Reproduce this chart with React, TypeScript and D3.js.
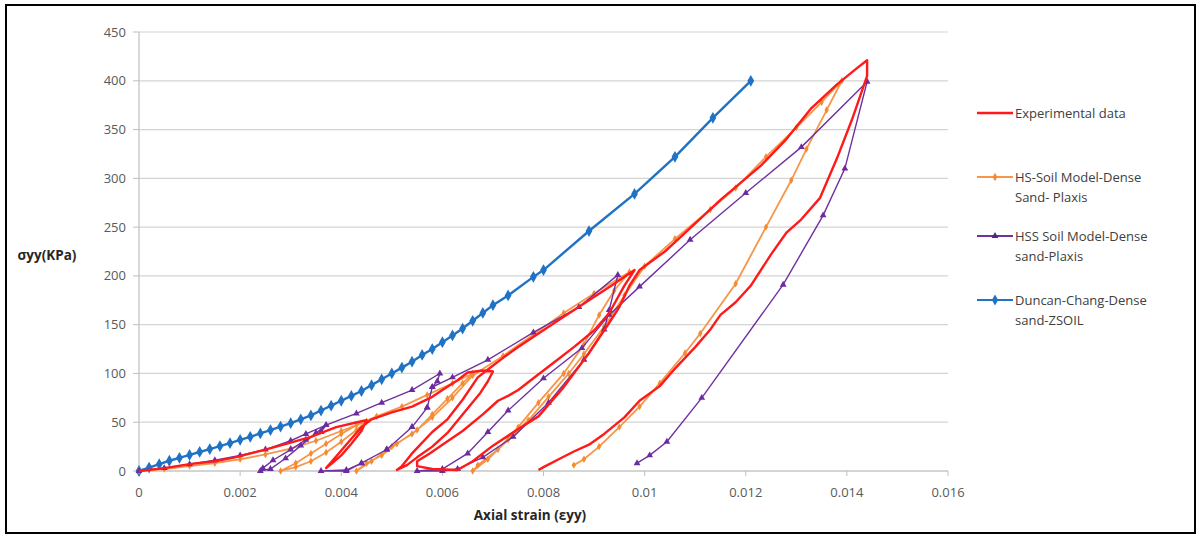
import React, { useEffect } from "react";
import * as d3 from "d3";

type Pt = [number, number];

const xTicks = [0, 0.002, 0.004, 0.006, 0.008, 0.01, 0.012, 0.014, 0.016];
const xTickLabels = ["0", "0.002", "0.004", "0.006", "0.008", "0.01", "0.012", "0.014", "0.016"];
const yTicks = [0, 50, 100, 150, 200, 250, 300, 350, 400, 450];

const seriesNames = [
  ["Experimental data"],
  ["HS-Soil Model-Dense", "Sand- Plaxis"],
  ["HSS Soil Model-Dense", "sand-Plaxis"],
  ["Duncan-Chang-Dense", "sand-ZSOIL"],
];

// Experimental data (strain, stress kPa)
const experimental: Pt[] = [
  [0, 0], [0.0005, 3], [0.001, 7], [0.0015, 10], [0.0019, 14], [0.0025, 22], [0.003, 29], [0.0034, 35],
  [0.0039, 45], [0.0044, 51], [0.0045, 52],
  [0.0044, 41], [0.0042, 28], [0.004, 16], [0.0038, 7], [0.0037, 3],
  [0.0038, 9], [0.004, 21], [0.0042, 33], [0.0044, 45], [0.0046, 53], [0.005, 60], [0.0054, 66],
  [0.0058, 76], [0.006, 83], [0.0063, 93], [0.0065, 101], [0.0068, 103], [0.007, 102],
  [0.0069, 92], [0.00675, 80], [0.0064, 58], [0.0061, 39], [0.0058, 25], [0.0055, 14], [0.0053, 6], [0.0051, 1],
  [0.0052, 5], [0.0054, 18], [0.0058, 40], [0.0061, 53], [0.0064, 73], [0.0067, 96], [0.0069, 104],
  [0.0072, 116], [0.0075, 127], [0.0079, 141], [0.0084, 158], [0.0089, 175], [0.0094, 192], [0.0098, 206],
  [0.0096, 190], [0.0093, 162], [0.009, 144], [0.0086, 127], [0.0082, 111], [0.0078, 95], [0.0075, 83],
  [0.0073, 77], [0.0071, 72], [0.0068, 58], [0.0064, 41], [0.006, 27], [0.00575, 18], [0.0055, 10], [0.0055, 5],
  [0.0058, 2], [0.0063, 1], [0.0066, 10], [0.007, 26], [0.0075, 43], [0.0079, 56], [0.0084, 86],
  [0.0089, 121], [0.0093, 152], [0.0095, 168], [0.0097, 190], [0.0099, 206],
  [0.0104, 225], [0.0108, 244], [0.0115, 278], [0.0123, 313], [0.0128, 340], [0.0133, 372], [0.0138, 396],
  [0.0142, 413], [0.0144, 421],
  [0.0144, 405], [0.0143, 390], [0.0141, 360], [0.0138, 320], [0.01347, 280], [0.0131, 258], [0.0128, 244],
  [0.0125, 222], [0.0121, 190], [0.0118, 173], [0.0115, 160], [0.0113, 145], [0.011, 127], [0.0106, 105],
  [0.0103, 87], [0.0099, 72], [0.0096, 55], [0.0092, 38], [0.0089, 27], [0.0086, 20], [0.0083, 12],
  [0.008, 4], [0.0079, 1],
];

// HS Soil model (Plaxis)
const hsModel: Pt[] = [
  [0, 0], [0.0005, 2], [0.001, 5], [0.0015, 8], [0.002, 12], [0.0025, 17], [0.003, 23], [0.0035, 31],
  [0.004, 41], [0.0045, 51],
  [0.0043, 42], [0.004, 30], [0.0037, 19], [0.0034, 10], [0.0031, 4], [0.0028, 0],
  [0.0031, 8], [0.0034, 18], [0.0037, 28], [0.004, 38], [0.0043, 47], [0.0047, 56], [0.0052, 66],
  [0.0057, 78], [0.0062, 90], [0.0066, 100],
  [0.0064, 90], [0.0061, 74], [0.0058, 58], [0.0055, 42], [0.0051, 28], [0.0048, 16], [0.0045, 8], [0.0043, 0],
  [0.0046, 10], [0.005, 25], [0.0054, 38], [0.0058, 55], [0.0062, 75], [0.0066, 98], [0.0072, 118],
  [0.0078, 140], [0.0084, 162], [0.009, 182], [0.0097, 204],
  [0.0094, 185], [0.0091, 160], [0.0088, 130], [0.0084, 100], [0.0079, 70], [0.0075, 45], [0.0071, 22],
  [0.0067, 6], [0.0066, 0],
  [0.0069, 12], [0.0073, 32], [0.0077, 52], [0.0081, 76], [0.0085, 100], [0.0088, 120], [0.0092, 148],
  [0.0096, 180], [0.01, 210], [0.0106, 238], [0.0113, 268], [0.0118, 290], [0.0124, 322], [0.013, 352],
  [0.0135, 378], [0.0139, 400],
  [0.0136, 370], [0.0132, 330], [0.0129, 298], [0.0124, 250], [0.0118, 192], [0.0111, 141], [0.0108, 121],
  [0.0103, 90], [0.0099, 66], [0.0095, 45], [0.0091, 25], [0.0088, 12], [0.0086, 6],
];

// HSS Soil model (Plaxis)
const hssModel: Pt[] = [
  [0, 0], [0.0005, 3], [0.001, 7], [0.0015, 11], [0.002, 16], [0.0025, 22], [0.003, 31], [0.0033, 38], [0.0037, 47],
  [0.0036, 40], [0.0033, 32], [0.003, 22], [0.00265, 11], [0.00245, 3], [0.0024, 0],
  [0.0026, 2], [0.0029, 13], [0.0032, 26], [0.0035, 39], [0.0037, 47], [0.0043, 59], [0.0048, 70],
  [0.0054, 83], [0.00595, 100],
  [0.0059, 92], [0.0058, 86], [0.0057, 65], [0.0054, 45], [0.0049, 22], [0.0044, 8], [0.0041, 0], [0.0036, 0],
  [0.0041, 1], [0.0044, 8], [0.0049, 22], [0.0054, 45], [0.0057, 65], [0.0058, 86], [0.0062, 96],
  [0.0069, 114], [0.0078, 142], [0.0087, 168], [0.00947, 201],
  [0.0093, 165], [0.0092, 145], [0.0088, 114], [0.0081, 70], [0.0074, 35], [0.0068, 14], [0.0063, 2],
  [0.006, 0], [0.0055, 0],
  [0.006, 2], [0.0065, 18], [0.0069, 40], [0.0073, 62], [0.008, 95], [0.00876, 126], [0.0093, 160],
  [0.0099, 189], [0.0109, 237], [0.012, 285], [0.0131, 332], [0.0144, 399],
  [0.01396, 310], [0.01353, 262], [0.01274, 191], [0.01113, 75], [0.01044, 30], [0.0101, 16], [0.00985, 8],
];

// Duncan-Chang (ZSOIL)
const duncanChang: Pt[] = [
  [0, 0], [0.0002, 3.5], [0.0004, 7], [0.0006, 10.5], [0.0008, 13.5], [0.001, 16.5], [0.0012, 19.5],
  [0.0014, 22.5], [0.0016, 25.5], [0.0018, 28.5], [0.002, 32], [0.0022, 35], [0.0024, 38.5], [0.0026, 42],
  [0.0028, 45.5], [0.003, 49], [0.0032, 53], [0.0034, 57], [0.0036, 62], [0.0038, 67], [0.004, 72],
  [0.0042, 77], [0.0044, 82], [0.0046, 88], [0.0048, 94], [0.005, 100], [0.0052, 106], [0.0054, 112],
  [0.0056, 119], [0.0058, 125], [0.006, 132], [0.0062, 139], [0.0064, 146], [0.0066, 154], [0.0068, 162],
  [0.007, 170], [0.0073, 180], [0.0078, 199], [0.008, 206], [0.0089, 246], [0.0098, 284], [0.0106, 322],
  [0.01135, 362], [0.0121, 400],
];

const COLORS = ["#FF1A1A", "#F7964A", "#7030A0", "#1F72C4"];
const FONT = "'Open Sans', 'Noto Sans', sans-serif";

export default function App() {
  useEffect(() => {
    document.body.style.margin = "0";
  }, []);

  const W = 1199, H = 538;
  const x = d3.scaleLinear().domain([0, 0.016]).range([139, 948]);
  const y = d3.scaleLinear().domain([0, 450]).range([471, 32]);
  const line = d3.line<Pt>().x((d) => x(d[0])).y((d) => y(d[1]));

  const diamond = d3.symbol().type(d3.symbolDiamond);
  const tri = d3.symbol().type(d3.symbolTriangle);

  const legendY = [113, 177, 236, 300];

  return (
    <svg width={W} height={H} style={{ display: "block", background: "#fff" }} fontFamily={FONT}>
      <rect x={6} y={5} width={1189} height={528} fill="#fff" stroke="#000" strokeWidth={2} />
      {/* gridlines */}
      {yTicks.map((t) => (
        <line key={"g" + t} x1={139} x2={948} y1={y(t)} y2={y(t)} stroke="#D4D4D4" strokeWidth={1.2} />
      ))}
      {/* axes */}
      <line x1={139} x2={139} y1={32} y2={471} stroke="#BFBFBF" strokeWidth={1.2} />
      <line x1={139} x2={948} y1={471} y2={471} stroke="#BFBFBF" strokeWidth={1.2} />
      {yTicks.map((t) => (
        <g key={"yt" + t}>
          <line x1={133} x2={139} y1={y(t)} y2={y(t)} stroke="#BFBFBF" />
          <text x={126} y={y(t)} dy="0.35em" textAnchor="end" fontSize={13} fill="#595959">{t}</text>
        </g>
      ))}
      {xTicks.map((t, i) => (
        <g key={"xt" + t}>
          <line x1={x(t)} x2={x(t)} y1={471} y2={476} stroke="#BFBFBF" />
          <text x={x(t)} y={492} dy="0.35em" textAnchor="middle" fontSize={13} fill="#595959">{xTickLabels[i]}</text>
        </g>
      ))}
      <text x={530} y={515} dy="0.35em" textAnchor="middle" fontSize={13.5} fontWeight="bold" fill="#262626">Axial strain  (εyy)</text>
      <text x={47} y={255} dy="0.35em" textAnchor="middle" fontSize={13.5} fontWeight="bold" fill="#262626">σyy(KPa)</text>

      {/* series */}
      <path d={line(duncanChang) || ""} fill="none" stroke={COLORS[3]} strokeWidth={2.4} />
      {duncanChang.map((d, i) => (
        <path key={"dc" + i} d={diamond.size(40)() || ""} transform={`translate(${x(d[0])},${y(d[1])})`} fill={COLORS[3]} />
      ))}
      <path d={line(hsModel) || ""} fill="none" stroke={COLORS[1]} strokeWidth={1.8} />
      {hsModel.map((d, i) => (
        <path key={"hs" + i} d={diamond.size(16)() || ""} transform={`translate(${x(d[0])},${y(d[1])})`} fill="#F58A2E" />
      ))}
      <path d={line(hssModel) || ""} fill="none" stroke={COLORS[2]} strokeWidth={1.4} />
      {hssModel.map((d, i) => (
        <path key={"hss" + i} d={tri.size(20)() || ""} transform={`translate(${x(d[0])},${y(d[1])})`} fill="#6A2C9E" />
      ))}
      <path d={line(experimental) || ""} fill="none" stroke={COLORS[0]} strokeWidth={2.4} strokeLinejoin="round" />

      {/* legend */}
      {seriesNames.map((lines, i) => (
        <g key={"lg" + i}>
          <line x1={977} x2={1013} y1={legendY[i]} y2={legendY[i]} stroke={COLORS[i]} strokeWidth={i === 0 ? 2.4 : 2} />
          {i === 1 && <path d={diamond.size(20)() || ""} transform={`translate(995,${legendY[i]})`} fill="#F58A2E" />}
          {i === 2 && <path d={tri.size(20)() || ""} transform={`translate(995,${legendY[i]})`} fill="#4B2A7A" />}
          {i === 3 && <path d={diamond.size(34)() || ""} transform={`translate(995,${legendY[i]})`} fill={COLORS[3]} />}
          {lines.map((t, j) => (
            <text key={j} x={1015} y={legendY[i] + j * 20} dy="0.35em" fontSize={13} fill="#404040">{t}</text>
          ))}
        </g>
      ))}
    </svg>
  );
}
